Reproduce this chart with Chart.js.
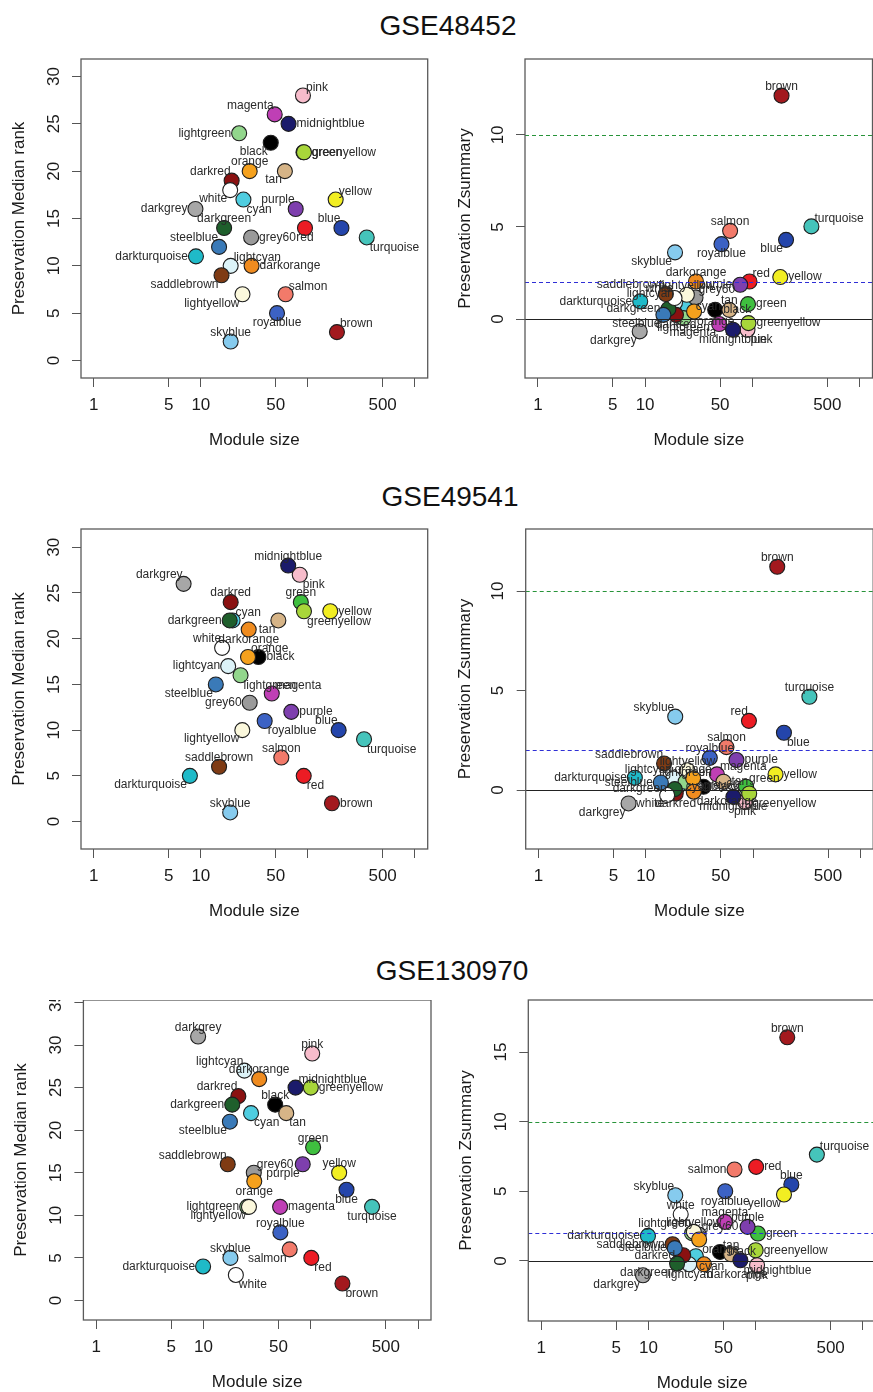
<!DOCTYPE html>
<html>
<head>
<meta charset="utf-8">
<script src="https://cdn.jsdelivr.net/npm/chart.js@4.4.1/dist/chart.umd.min.js"></script>
<style>
html,body{margin:0;padding:0;background:#fff;}
body{width:873px;height:1392px;overflow:hidden;position:relative;font-family:"Liberation Sans",Arial,Helvetica,sans-serif;}
.ttl{position:absolute;transform:translateX(-50%);font-size:28px;line-height:32px;color:#111;white-space:nowrap;}
canvas{position:absolute;}
</style>
</head>
<body>
<div class="ttl" style="left:448px;top:10px">GSE48452</div>
<div class="ttl" style="left:450px;top:481px">GSE49541</div>
<div class="ttl" style="left:452px;top:955px">GSE130970</div>
<canvas id="c1"></canvas><canvas id="c2"></canvas>
<canvas id="c3"></canvas><canvas id="c4"></canvas>
<canvas id="c5"></canvas><canvas id="c6"></canvas>
<script>
// ---------------- DATA ----------------
const modules = ['turquoise','blue','brown','yellow','green','red','black','pink','magenta','purple','greenyellow','tan','salmon','cyan','midnightblue','lightcyan','grey60','lightgreen','lightyellow','royalblue','darkred','darkgreen','darkturquoise','darkgrey','orange','darkorange','white','skyblue','saddlebrown','steelblue'];

const size_GSE48452 = [355,206,187,182,91,94,45,90,49,77,92,61,62,25,66,19,29.5,22.8,24.5,51.5,19.4,16.5,9.0,8.9,28.6,29.8,18.8,19,15.6,14.8];
const rank_GSE48452 = [13,14,3,17,22,14,23,28,26,16,22,20,7,17,25,10,13,24,7,5,19,14,11,16,20,10,18,2,9,12];
const z_GSE48452    = [5.03,4.30,12.13,2.28,0.81,2.04,0.5,-0.58,-0.27,1.86,-0.22,0.50,4.79,0.68,-0.58,0.9,1.17,0.05,1.32,4.07,0.23,0.55,0.96,-0.67,0.41,2.04,1.14,3.62,1.36,0.23];

const size_GSE49541 = [335,194,168,162,86,91.5,34.5,84,46,70,92,53,56.5,19.8,65.5,18,28.6,23.5,24.4,39.5,19,18.6,7.9,6.9,27.6,28,15.8,18.8,14.8,13.8];
const rank_GSE49541 = [9,10,2,23,24,5,18,27,14,12,23,22,7,22,28,17,13,16,10,11,24,22,5,26,18,21,19,1,6,15];
const z_GSE49541    = [4.69,2.88,11.22,0.79,0.17,3.48,0.17,-0.59,0.79,1.51,-0.17,0.42,2.16,0.15,-0.34,0.59,0.2,0.42,1.0,1.62,-0.17,0.05,0.62,-0.67,0.59,-0.08,-0.25,3.69,1.34,0.38];

const size_GSE130970 = [372,215,197,183.6,105,101,46.5,103,51.7,84,100,59,63.5,27.7,72,24,29.4,25.5,26.5,52,21.1,18.5,9.9,8.9,29.7,33,20,17.8,16.8,17.6];
const rank_GSE130970 = [11,13,2,15,18,5,23,29,11,16,25,22,6,22,25,27,15,11,11,8,24,23,4,31,14,26,3,5,16,21];
const z_GSE130970    = [7.64,5.49,16.06,4.77,1.97,6.76,0.65,-0.31,2.81,2.45,0.77,0.48,6.57,0.34,0.05,-0.24,1.9,2.0,2.09,5.01,0.41,-0.19,1.8,-1.03,1.54,-0.24,3.35,4.72,1.2,0.92];

const xTickValues = [1,5,10,50,100,500,1000];
const xTickLabels = ['1','5','10','50','','500',''];
const rankTicks = [0,5,10,15,20,25,30];
const rankTicks130970 = [0,5,10,15,20,25,30,35];
const zTicks = [0,5,10];
const zTicks130970 = [0,5,10,15];
const zThresholds = [0,2,10];

// ---------------- STYLE / LAYOUT ----------------
const moduleColors = ['#45c4bb','#2445ab','#a3191e','#f2ee22','#3fbf3f','#ec1c24','#000000','#f7bccb','#bf3fb5','#7e3fae','#a8d63a','#d6b487','#f27a6a','#4fcde0','#1b1b6b','#dcf3f8','#9a9a9a','#92d68c','#fbf8dc','#3c62c4','#8a1111','#1f5f2c','#1fbac8','#a7a7a7','#f5a11d','#ef8b1f','#ffffff','#86cbee','#7f3b14','#3a7ab8'];
const thresholdStyles = [{color:'#222',dash:[]},{color:'#2f2fd6',dash:[4,3]},{color:'#28943a',dash:[4,3]}];

// label placement codes (compass direction of label relative to point)
const lab_rank_GSE48452 = ['SE','NW','NE','NE','E','S','SW','NE','NW','NW','E','SW','NE','SE','E','NE','E','W','SW','S','NW','N','W','W','N','E','SW','N','SW','NW'];
const lab_z_GSE48452    = ['NE','SW','N','E','E','NE','E','SE','SW','W','E','N','N','E','S','NW','NE','S','N','S','S','W','W','SW','SE','N','NW','SW','NW','SW'];
const lab_rank_GSE49541 = ['SE','NW','E','E','N','SE','E','SE','NE','E','SE','SW','N','NE','N','W','W','SE','SW','SE','N','W','SW','NW','NE','S','NW','N','N','SW'];
const lab_z_GSE49541    = ['N','SE','N','E','NE','NW','E','S','NE','E','SE','E','N','E','S','NW','E','N','N','N','S','W','W','SW','N','SE','SW','NW','NW','W'];
const lab_rank_GSE130970 = ['S','S','SE','N','N','SE','N','N','E','SW','E','SE','SW','SE','NE','NW','NE','W','SW','N','NW','W','W','N','S','N','SE','N','NW','SW'];
const lab_z_GSE130970    = ['NE','N','N','SW','E','E','E','S','N','N','E','N','W','SE','SE','S','NE','NW','N','S','W','SW','W','SW','SE','SE','N','NW','W','W'];

const LABEL_OFF = {
  E:{align:'left',dx:8,dy:0}, W:{align:'right',dx:-8,dy:0},
  N:{align:'center',dx:0,dy:-9}, S:{align:'center',dx:0,dy:10},
  NE:{align:'left',dx:3,dy:-8}, NW:{align:'right',dx:-1,dy:-9},
  SE:{align:'left',dx:3,dy:10}, SW:{align:'right',dx:-3,dy:9}
};
const FONT = '"Liberation Sans", Arial, Helvetica, sans-serif';
const XMIN = Math.pow(10,-0.12), XMAX = Math.pow(10,3.12);
const CW = 440, XH = 80;

const panels = [
  {id:'c1', cl:0,   ct:47,  bl:81,    br:427.7, bt:59,   bb:377.7, xs:size_GSE48452, ys:rank_GSE48452, dirs:lab_rank_GSE48452, ymin:-1.85, ymax:31.85, yt:rankTicks, title:'Preservation Median rank', tpad:8.8, lines:false},
  {id:'c2', cl:440, ct:47,  bl:525,   br:872.5, bt:59,   bb:378,   xs:size_GSE48452, ys:z_GSE48452, dirs:lab_z_GSE48452, ymin:-3.2, ymax:14.12, yt:zTicks, title:'Preservation Zsummary', tpad:14.8, lines:true},
  {id:'c3', cl:0,   ct:517, bl:81,    br:427.7, bt:529,  bb:848.5, xs:size_GSE49541, ys:rank_GSE49541, dirs:lab_rank_GSE49541, ymin:-3.0, ymax:32.0, yt:rankTicks, title:'Preservation Median rank', tpad:8.8, lines:false},
  {id:'c4', cl:440, ct:517, bl:525.7, br:873.2, bt:529,  bb:849,   xs:size_GSE49541, ys:z_GSE49541, dirs:lab_z_GSE49541, ymin:-2.96, ymax:13.12, yt:zTicks, title:'Preservation Zsummary', tpad:14.8, lines:true},
  {id:'c5', cl:0,   ct:1000, bl:83.4, br:431,   bt:1000, bb:1320,  xs:size_GSE130970, ys:rank_GSE130970, dirs:lab_rank_GSE130970, ymin:-2.29, ymax:35.29, yt:rankTicks130970, title:'Preservation Median rank', tpad:11.5, lines:false},
  {id:'c6', cl:440, ct:988, bl:528.3, br:875.8, bt:1000, bb:1320.7,xs:size_GSE130970, ys:z_GSE130970, dirs:lab_z_GSE130970, ymin:-4.31, ymax:18.74, yt:zTicks130970, title:'Preservation Zsummary', tpad:16.5, lines:true}
];

function rPlugin(p){
  return {
    id:'rstyle_'+p.id,
    afterDatasetsDraw(chart){
      const ctx = chart.ctx, a = chart.chartArea, x = chart.scales.x, y = chart.scales.y;
      ctx.save();
      // point labels
      ctx.font = '12px ' + FONT;
      ctx.fillStyle = '#2a2a2a';
      ctx.textBaseline = 'middle';
      modules.forEach((name,i)=>{
        const px = x.getPixelForValue(p.xs[i]), py = y.getPixelForValue(p.ys[i]);
        const d = LABEL_OFF[p.dirs[i]];
        ctx.textAlign = d.align;
        ctx.fillText(name, px + d.dx, py + d.dy);
      });
      // threshold lines
      if (p.lines){
        ctx.lineWidth = 1.1;
        zThresholds.forEach((v,k)=>{
          const yy = Math.round(y.getPixelForValue(v)) + 0.5;
          ctx.strokeStyle = thresholdStyles[k].color;
          ctx.setLineDash(thresholdStyles[k].dash);
          ctx.beginPath(); ctx.moveTo(a.left, yy); ctx.lineTo(a.right, yy); ctx.stroke();
        });
        ctx.setLineDash([]);
      }
      // box
      ctx.strokeStyle = '#5a5a5a'; ctx.lineWidth = 1.3;
      ctx.strokeRect(a.left, a.top, a.right - a.left, a.bottom - a.top);
      // rotated y tick labels (R style)
      ctx.font = '17px ' + FONT;
      ctx.fillStyle = '#1a1a1a';
      ctx.textAlign = 'center'; ctx.textBaseline = 'middle';
      p.yt.forEach(v=>{
        const yy = y.getPixelForValue(v);
        ctx.save();
        ctx.translate(a.left - 27, yy);
        ctx.rotate(-Math.PI/2);
        ctx.fillText(String(v), 0, 0);
        ctx.restore();
      });
      ctx.restore();
    }
  };
}

panels.forEach(p=>{
  const cv = document.getElementById(p.id);
  const H = Math.round(p.bb - p.ct + XH);
  cv.width = CW; cv.height = H;
  cv.style.left = p.cl + 'px'; cv.style.top = p.ct + 'px';
  cv.style.width = CW + 'px'; cv.style.height = H + 'px';
  const pts = modules.map((m,i)=>({x:p.xs[i], y:p.ys[i]}));
  new Chart(cv, {
    type:'scatter',
    data:{datasets:[{
      data:pts,
      backgroundColor:moduleColors,
      borderColor:'#1e1e1e',
      borderWidth:1.1,
      pointRadius:7.5,
      pointHoverRadius:7.5,
      clip:false
    }]},
    options:{
      responsive:false, animation:false, devicePixelRatio:1, events:[],
      layout:{autoPadding:false, padding:{left:0, top:p.bt - p.ct, right:(p.cl + CW) - p.br, bottom:0}},
      plugins:{legend:{display:false}, tooltip:{enabled:false}},
      scales:{
        x:{
          type:'logarithmic', position:'bottom', min:XMIN, max:XMAX,
          afterBuildTicks:s=>{ s.ticks = xTickValues.map(v=>({value:v})); },
          afterFit:s=>{ s.height = XH; s.paddingLeft = 0; s.paddingRight = 0; },
          ticks:{autoSkip:false, maxRotation:0, minRotation:0, padding:8, color:'#1a1a1a',
                 font:{family:FONT, size:17},
                 callback:(v)=>{ const k = xTickValues.indexOf(v); return k >= 0 ? xTickLabels[k] : ''; }},
          grid:{display:true, drawOnChartArea:false, drawTicks:true, tickLength:9, color:'#555', lineWidth:1},
          border:{display:false},
          title:{display:true, text:'Module size', color:'#1a1a1a', font:{family:FONT, size:17}, padding:{top:0, bottom:7.5}}
        },
        y:{
          type:'linear', position:'left', min:p.ymin, max:p.ymax,
          afterBuildTicks:s=>{ s.ticks = p.yt.map(v=>({value:v})); },
          afterFit:s=>{ s.width = p.bl - p.cl; s.paddingTop = 0; s.paddingBottom = 0; },
          ticks:{display:false},
          grid:{display:true, drawOnChartArea:false, drawTicks:true, tickLength:9, color:'#555', lineWidth:1},
          border:{display:false},
          title:{display:true, text:p.title, color:'#1a1a1a', font:{family:FONT, size:17}, padding:{top:p.tpad, bottom:0}}
        }
      }
    },
    plugins:[rPlugin(p)]
  });
});
</script>
</body>
</html>
